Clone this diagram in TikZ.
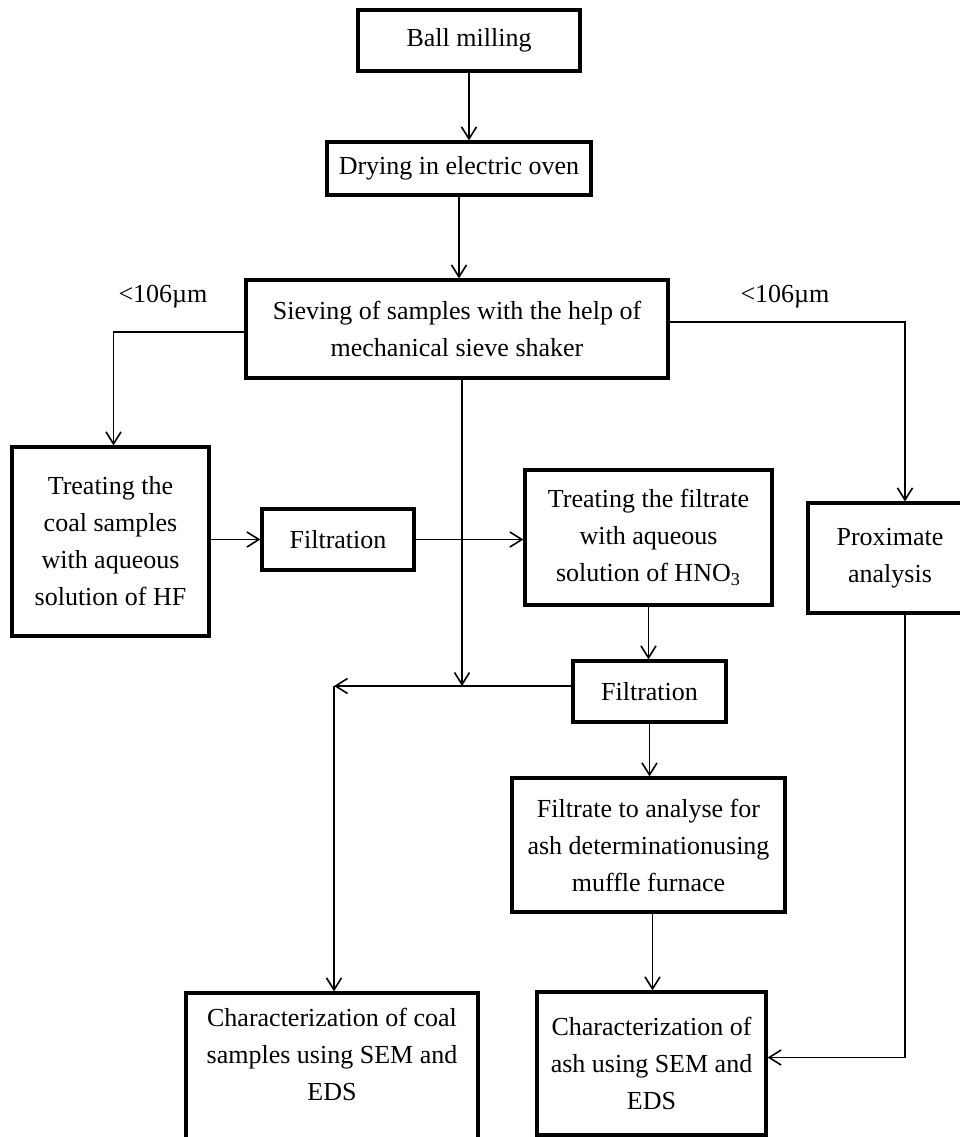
\documentclass[tikz,border=0pt]{standalone}
\usepackage{fontspec}
\setmainfont{Liberation Serif}
\usetikzlibrary{arrows.meta,positioning,calc}

\begin{document}
\begin{tikzpicture}[x=0.5pt,y=-0.5pt,
 box/.style={draw=black,line width=1.6pt,align=center,inner sep=0pt,
 font=\fontsize{13}{18.5}\selectfont},
 flow/.style={-{Straight Barb[length=6pt,width=7.5pt]},line width=0.8pt,draw=black},
 note/.style={font=\fontsize{13}{18.5}\selectfont,inner sep=0pt}]
\useasboundingbox (0,0) rectangle (960,1137);
\node[box,minimum width=111pt,minimum height=30.5pt] (ball) at (469,40.5) {Ball milling};
\node[box,minimum width=132pt,minimum height=26.5pt] (drying) at (459,168.5) {Drying in electric oven};
\node[box,minimum width=211pt,minimum height=49pt] (sieve) at (457,329)
 {Sieving of samples with the help of\\mechanical sieve shaker};
\node[box,minimum width=98.5pt,minimum height=94.5pt] (hf) at (110.5,541.5)
 {Treating the\\coal samples\\with aqueous\\solution of HF};
\node[box,minimum width=76pt,minimum height=30.5pt] (filtA) at (338,539.5) {Filtration};
\node[box,minimum width=123.5pt,minimum height=67.5pt] (hno) at (648.5,537.5)
 {Treating the filtrate\\with aqueous\\solution of HNO\textsubscript{3}};
\node[box,minimum width=82pt,minimum height=55pt] (prox) at (890,558) {Proximate\\analysis};
\node[box,minimum width=76.5pt,minimum height=30.5pt] (filtB) at (649.5,691.5) {Filtration};
\node[box,minimum width=136.5pt,minimum height=67pt] (filtrate) at (648.5,845)
 {Filtrate to analyse for\\ash determinationusing\\muffle furnace};
\node[box,minimum width=146pt,minimum height=85pt] (coalchar) at (332,1078)
 {Characterization of coal\\samples using SEM and\\EDS\\ \strut};
\node[box,minimum width=114.5pt,minimum height=71.5pt] (ashchar) at (651.5,1063.5)
 {Characterization of\\ash using SEM and\\EDS};
\node[note] (sizeA) at (163,297) {<106µm};
\node[note] (sizeB) at (785,297) {<106µm};
\coordinate (join) at (462,686);
\coordinate (turn) at (334,686);
\draw[flow] (ball.south) -- (ball.south |- drying.north);
\draw[flow] (drying.south) -- (drying.south |- sieve.north);
\draw[flow] ([yshift=-1.5pt]sieve.west) -| ([xshift=1.5pt]hf.north);
\draw[flow] ([yshift=3.5pt]sieve.east) -| ([xshift=7.5pt]prox.north);
\draw[flow] (hf.east |- filtA.west) -- (filtA.west);
\draw[flow] (filtA.east) -- (filtA.east -| hno.west);
\draw[flow] (sieve.south -| join) -- (join);
\draw[flow] (filtB.west |- turn) -- (turn);
\draw[flow] (turn) -- (turn |- coalchar.north);
\draw[flow] (hno.south) -- (hno.south |- filtB.north);
\draw[flow] (filtB.south) -- (filtB.south |- filtrate.north);
\draw[flow] ([xshift=2pt]filtrate.south) -- ([xshift=2pt]filtrate.south |- ashchar.north);
\draw[flow] ([xshift=7.5pt]prox.south) |- ([yshift=3pt]ashchar.east);
\end{tikzpicture}
\end{document}
